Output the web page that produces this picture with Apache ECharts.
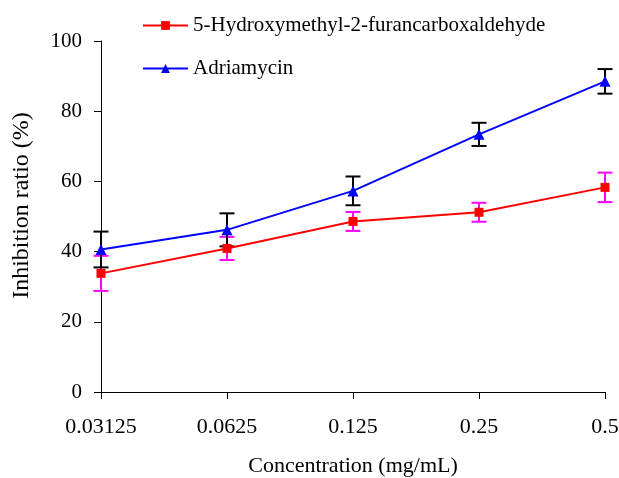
<!DOCTYPE html>
<html>
<head>
<meta charset="UTF-8">
<title>Inhibition ratio</title>
<script src="https://cdn.jsdelivr.net/npm/echarts@6/dist/echarts.min.js"></script>
<style>
  html, body { margin: 0; padding: 0; background: #fff; }
  #container { width: 619px; height: 478px; }
</style>
</head>
<body>
<div id="container"></div>
<script>
// data
var concentrations = ['0.03125', '0.0625', '0.125', '0.25', '0.5'];
var hmfMean = [33.8, 40.9, 48.6, 51.2, 58.3];
var hmfErr = [5.0, 3.3, 2.7, 2.7, 4.2];
var adrMean = [40.6, 46.2, 57.3, 73.4, 88.5];
var adrErr = [5.1, 4.7, 4.1, 3.3, 3.5];
var yTicks = [0, 20, 40, 60, 80, 100];

var FONT = '"Liberation Serif", "Times New Roman", serif';

function errData(mean, err) {
  return mean.map(function (m, i) { return [i, m - err[i], m + err[i]]; });
}

// error bar drawing
function errorBar(color) {
  return function (params, api) {
    var lo = api.coord([api.value(0), api.value(1)]);
    var hi = api.coord([api.value(0), api.value(2)]);
    var w = 7.5;
    var style = { stroke: color, lineWidth: 2 };
    return {
      type: 'group',
      children: [
        { type: 'line', shape: { x1: lo[0], y1: lo[1], x2: hi[0], y2: hi[1] }, style: style },
        { type: 'line', shape: { x1: lo[0] - w, y1: lo[1], x2: lo[0] + w, y2: lo[1] }, style: style },
        { type: 'line', shape: { x1: hi[0] - w, y1: hi[1], x2: hi[0] + w, y2: hi[1] }, style: style }
      ]
    };
  };
}

var myChart = echarts.init(document.getElementById('container'));
var option = {
  animation: false,
  textStyle: { fontFamily: FONT },
  legend: {
    orient: 'vertical',
    left: 137,
    top: 10,
    itemWidth: 45,
    itemHeight: 11,
    itemGap: 22,
    textStyle: { fontFamily: FONT, fontSize: 21, color: '#000' },
    data: ['5-Hydroxymethyl-2-furancarboxaldehyde', 'Adriamycin']
  },
  grid: { left: 101, right: 14, top: 41, bottom: 86, containLabel: false, outerBoundsMode: 'none' },
  xAxis: {
    type: 'category',
    data: concentrations,
    boundaryGap: false,
    name: 'Concentration (mg/mL)',
    nameLocation: 'middle',
    nameGap: 63,
    nameTextStyle: { fontFamily: FONT, fontSize: 22, color: '#000' },
    axisLine: { lineStyle: { color: '#000', width: 1 } },
    axisTick: { show: true, length: 7, inside: false, lineStyle: { color: '#000' } },
    axisLabel: { fontFamily: FONT, fontSize: 22, color: '#000', margin: 24 },
    splitLine: { show: false }
  },
  yAxis: {
    type: 'value',
    min: yTicks[0],
    max: yTicks[yTicks.length - 1],
    interval: 20,
    name: 'Inhibition ratio (%)',
    nameLocation: 'middle',
    nameGap: 67,
    nameTextStyle: { fontFamily: FONT, fontSize: 24, color: '#000', padding: [0, 0, 0, 22] },
    axisLine: { show: true, lineStyle: { color: '#000', width: 1 } },
    axisTick: { show: true, length: 7, lineStyle: { color: '#000' } },
    axisLabel: { fontFamily: FONT, fontSize: 21, color: '#000', margin: 19 },
    splitLine: { show: false }
  },
  series: [
    {
      type: 'custom',
      renderItem: errorBar('#ff00ff'),
      data: errData(hmfMean, hmfErr),
      encode: { x: 0, y: [1, 2] },
      z: 1,
      silent: true
    },
    {
      type: 'custom',
      renderItem: errorBar('#000000'),
      data: errData(adrMean, adrErr),
      encode: { x: 0, y: [1, 2] },
      z: 1,
      silent: true
    },
    {
      name: '5-Hydroxymethyl-2-furancarboxaldehyde',
      type: 'line',
      data: hmfMean,
      symbol: 'rect',
      symbolSize: 9,
      lineStyle: { color: '#ff0000', width: 2 },
      itemStyle: { color: '#ff0000' },
      z: 3
    },
    {
      name: 'Adriamycin',
      type: 'line',
      data: adrMean,
      symbol: 'triangle',
      symbolSize: 11,
      lineStyle: { color: '#0000ff', width: 2 },
      itemStyle: { color: '#0000ff' },
      z: 4
    }
  ]
};
myChart.setOption(option);
</script>
</body>
</html>
